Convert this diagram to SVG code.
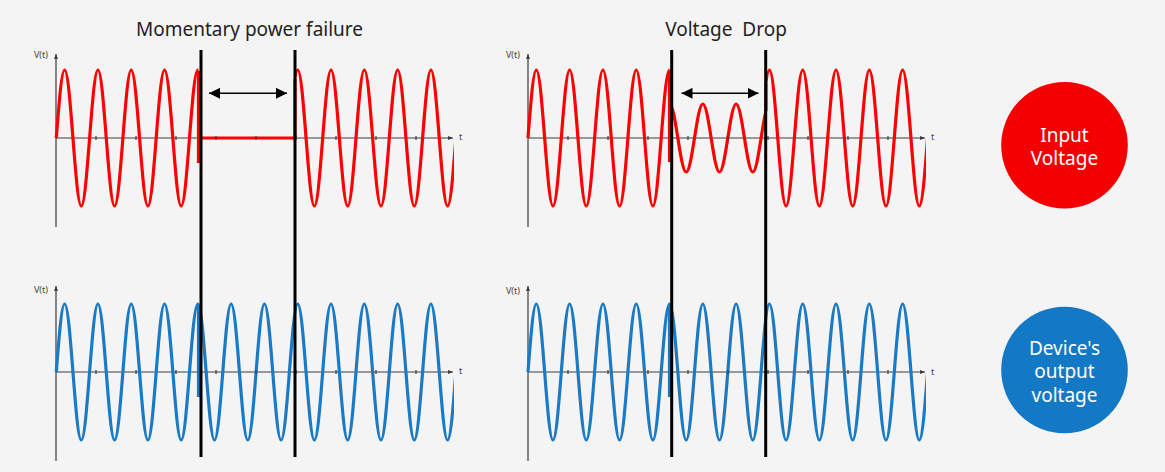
<svg xmlns="http://www.w3.org/2000/svg" xmlns:xlink="http://www.w3.org/1999/xlink" width="1165" height="472" viewBox="0 0 1165 472">
<style>
.bg{fill:#f4f4f4}
.ax{stroke:#3c3c3c;stroke-width:1.2;fill:none}
.tk{stroke:#3c3c3c;stroke-width:1.2;fill:none}
.red{stroke:#ff0000;stroke-width:3.2;fill:none}
.blue{stroke:#1b7ac3;stroke-width:3.2;fill:none}
.bar{stroke:#000;stroke-width:3;fill:none}
.dbl{stroke:#000;stroke-width:1.6;fill:none}
.small{font-family:"Noto Sans","Liberation Sans",sans-serif;font-size:9px;fill:#444}
.title{font-family:"Noto Sans","Liberation Sans",sans-serif;font-size:19px;fill:#222;text-anchor:middle}
.ctext{font-family:"Noto Sans","Liberation Sans",sans-serif;font-size:19px;fill:#fff;text-anchor:middle}
</style>
<defs>
<marker id="axh" viewBox="0 0 5 4" refX="5" refY="2" markerWidth="5" markerHeight="4" markerUnits="userSpaceOnUse" orient="auto"><path d="M0,0L5,2L0,4z" fill="#3c3c3c"/></marker>
<marker id="ah" viewBox="0 0 11 11" refX="11" refY="5.5" markerWidth="11" markerHeight="11" markerUnits="userSpaceOnUse" orient="auto-start-reverse"><path d="M0,0L11,5.5L0,11z" fill="#000"/></marker>
<path id="w" d="M0,0c2.715,-34.84 5.312,-68 8.325,-68s5.61,33.16 8.325,68s5.312,68 8.325,68s5.61,-33.16 8.325,-68s5.312,-68 8.325,-68s5.61,33.16 8.325,68s5.312,68 8.325,68s5.61,-33.16 8.325,-68s5.312,-68 8.325,-68s5.61,33.16 8.325,68s5.312,68 8.325,68s5.61,-33.16 8.325,-68s5.312,-68 8.325,-68s5.61,33.16 8.325,68s5.312,68 8.325,68s5.61,-33.16 8.325,-68s5.312,-68 8.325,-68s5.61,33.16 8.325,68s5.312,68 8.325,68s5.61,-33.16 8.325,-68s5.312,-68 8.325,-68s5.61,33.16 8.325,68s5.312,68 8.325,68s5.61,-33.16 8.325,-68s5.312,-68 8.325,-68s5.61,33.16 8.325,68s5.312,68 8.325,68s5.61,-33.16 8.325,-68s5.312,-68 8.325,-68s5.61,33.16 8.325,68s5.312,68 8.325,68s5.61,-33.16 8.325,-68s5.312,-68 8.325,-68s5.61,33.16 8.325,68s5.312,68 8.325,68s5.61,-33.16 8.325,-68s5.312,-68 8.325,-68s5.61,33.16 8.325,68s5.312,68 8.325,68s5.61,-33.16 8.325,-68s5.312,-68 8.325,-68s5.61,33.16 8.325,68s5.312,68 8.325,68s5.61,-33.16 8.325,-68s5.312,-68 8.325,-68s5.61,33.16 8.325,68s5.312,68 8.325,68s5.61,-33.16 8.325,-68"/>
<path id="ws" d="M0,0c2.715,-17.42 5.312,-34 8.325,-34s5.61,16.58 8.325,34s5.312,34 8.325,34s5.61,-16.58 8.325,-34s5.312,-34 8.325,-34s5.61,16.58 8.325,34s5.312,34 8.325,34s5.61,-16.58 8.325,-34s5.312,-34 8.325,-34s5.61,16.58 8.325,34s5.312,34 8.325,34s5.61,-16.58 8.325,-34s5.312,-34 8.325,-34s5.61,16.58 8.325,34s5.312,34 8.325,34s5.61,-16.58 8.325,-34s5.312,-34 8.325,-34s5.61,16.58 8.325,34s5.312,34 8.325,34s5.61,-16.58 8.325,-34s5.312,-34 8.325,-34s5.61,16.58 8.325,34s5.312,34 8.325,34s5.61,-16.58 8.325,-34s5.312,-34 8.325,-34s5.61,16.58 8.325,34s5.312,34 8.325,34s5.61,-16.58 8.325,-34s5.312,-34 8.325,-34s5.61,16.58 8.325,34s5.312,34 8.325,34s5.61,-16.58 8.325,-34"/>
<clipPath id="cTL1"><rect x="40" y="40" width="158.5" height="200"/></clipPath>
<clipPath id="cTL2"><rect x="295" y="40" width="159" height="200"/></clipPath>
<clipPath id="cL"><rect x="40" y="270" width="414" height="200"/></clipPath>
<clipPath id="cTR1"><rect x="510" y="40" width="159.5" height="200"/></clipPath>
<clipPath id="cTR2"><rect x="669.5" y="40" width="96.5" height="200"/></clipPath>
<clipPath id="cTR3"><rect x="766" y="40" width="160" height="200"/></clipPath>
<clipPath id="cR"><rect x="510" y="270" width="416" height="200"/></clipPath>
</defs>
<rect class="bg" x="0" y="0" width="1165" height="472"/>

<g id="title-momentary">
<text class="title" x="249.5" y="36">Momentary power failure</text>
</g>
<g id="title-drop">
<text class="title" x="726" y="36" xml:space="preserve">Voltage  Drop</text>
</g>

<g id="graph-failure-input">
<path class="ax" d="M56,227V54" marker-end="url(#axh)"/>
<path class="ax" d="M56,138H453" marker-end="url(#axh)"/>
<text class="small" x="48" y="58" text-anchor="end">V(t)</text>
<text class="small" x="459" y="140">t</text>
<g clip-path="url(#cTL1)"><use xlink:href="#w" class="red" transform="translate(56.3,138)"/></g>
<g clip-path="url(#cTL2)"><use xlink:href="#w" class="red" transform="translate(56.3,138)"/></g>
<path class="red" d="M198.5,71V163M198.5,138H295M295,138V79"/>
<path class="tk" d="M96,136v4M136,136v4M176,136v4M216,136v4M256,136v4M296,136v4M336,136v4M376,136v4M416,136v4"/>
</g>

<g id="graph-failure-output">
<path class="ax" d="M56,461V286" marker-end="url(#axh)"/>
<path class="ax" d="M56,372H453" marker-end="url(#axh)"/>
<text class="small" x="48" y="293" text-anchor="end">V(t)</text>
<text class="small" x="459" y="374">t</text>
<g clip-path="url(#cL)"><use xlink:href="#w" class="blue" transform="translate(56.3,372)"/></g>
<path class="blue" d="M198.5,305V397"/>
<path class="tk" d="M96,370v4M136,370v4M176,370v4M216,370v4M256,370v4M296,370v4M336,370v4M376,370v4M416,370v4"/>
</g>

<g id="graph-drop-input">
<path class="ax" d="M528,227V54" marker-end="url(#axh)"/>
<path class="ax" d="M528,138H925" marker-end="url(#axh)"/>
<text class="small" x="520" y="58" text-anchor="end">V(t)</text>
<text class="small" x="931" y="140">t</text>
<g clip-path="url(#cTR1)"><use xlink:href="#w" class="red" transform="translate(528,138)"/></g>
<g clip-path="url(#cTR2)"><use xlink:href="#ws" class="red" transform="translate(528,138)"/></g>
<g clip-path="url(#cTR3)"><use xlink:href="#w" class="red" transform="translate(528,138)"/></g>
<path class="red" d="M669.5,70V162M766,111V84"/>
<path class="tk" d="M568,136v4M608,136v4M648,136v4M688,136v4M728,136v4M768,136v4M808,136v4M848,136v4M888,136v4"/>
</g>

<g id="graph-drop-output">
<path class="ax" d="M528,461V286" marker-end="url(#axh)"/>
<path class="ax" d="M528,372H925" marker-end="url(#axh)"/>
<text class="small" x="520" y="294" text-anchor="end">V(t)</text>
<text class="small" x="931" y="375">t</text>
<g clip-path="url(#cR)"><use xlink:href="#w" class="blue" transform="translate(528,372)"/></g>
<path class="blue" d="M669.5,305V397"/>
<path class="tk" d="M568,370v4M608,370v4M648,370v4M688,370v4M728,370v4M768,370v4M808,370v4M848,370v4M888,370v4"/>
</g>

<g id="event-bars">
<path class="bar" d="M201,50V457M295,50V457M671.7,50V457M765.7,50V457"/>
</g>

<g id="connectors">
<path class="dbl" d="M209,93.3H287" marker-start="url(#ah)" marker-end="url(#ah)"/>
<path class="dbl" d="M681.5,93.3H758.5" marker-start="url(#ah)" marker-end="url(#ah)"/>
</g>

<g id="legend-input">
<circle cx="1064.5" cy="145.3" r="63.3" fill="#f50000"/>
<text class="ctext" x="1064.5" y="141.5">Input</text>
<text class="ctext" x="1064.5" y="165">Voltage</text>
</g>
<g id="legend-output">
<circle cx="1064.5" cy="370" r="63.3" fill="#1479c5"/>
<text class="ctext" x="1064.5" y="354.5">Device's</text>
<text class="ctext" x="1064.5" y="378">output</text>
<text class="ctext" x="1064.5" y="401.5">voltage</text>
</g>
</svg>
